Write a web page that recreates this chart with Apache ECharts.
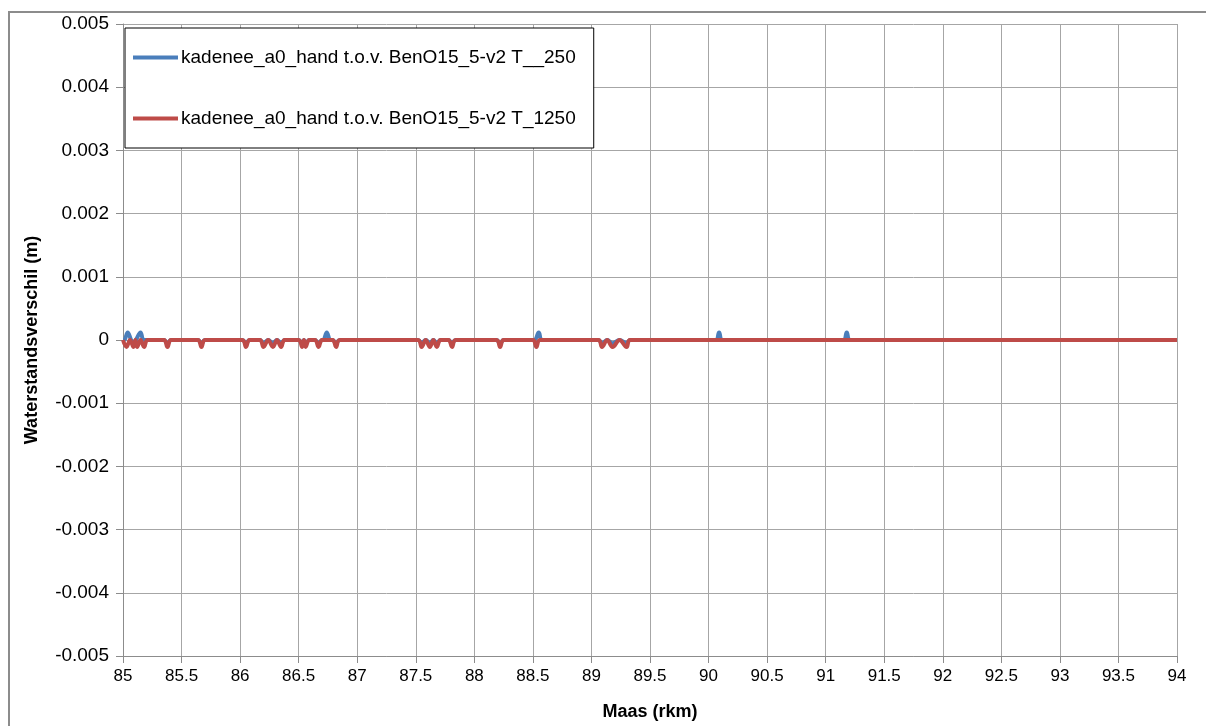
<!DOCTYPE html>
<html>
<head>
<meta charset="utf-8">
<script src="https://cdn.jsdelivr.net/npm/echarts@6/dist/echarts.min.js"></script>
<style>
html,body{margin:0;padding:0;background:#fff;}
#chart{width:1206px;height:726px;}
</style>
</head>
<body>
<div id="chart"></div>
<script>
// Series names
const seriesNames = [
  'kadenee_a0_hand t.o.v. BenO15_5-v2 T__250',
  'kadenee_a0_hand t.o.v. BenO15_5-v2 T_1250'
];

// T__250 (blue): river km and water level difference (m)
const rkm250 = [85.00, 85.01, 85.04, 85.07, 85.09, 85.11, 85.15, 85.18,
  85.35, 85.38, 85.41, 85.64, 85.67, 85.70,
  86.02, 86.05, 86.08, 86.17, 86.20, 86.24, 86.28, 86.315, 86.35, 86.38,
  86.50, 86.53, 86.545, 86.56, 86.59, 86.64, 86.67, 86.70, 86.71, 86.74, 86.77, 86.79, 86.82, 86.85,
  87.52, 87.55, 87.585, 87.62, 87.65, 87.68, 87.71, 87.78, 87.81, 87.84,
  88.19, 88.22, 88.25, 88.51, 88.55, 88.58,
  89.06, 89.09, 89.135, 89.18, 89.24, 89.30, 89.33,
  90.06, 90.09, 90.12, 91.15, 91.18, 91.21, 94.00];
const dh250 = [0, 0, 0.00012, 0, -0.00004, 0, 0.00012, 0,
  0, -0.00006, 0, 0, -0.00006, 0,
  0, -0.00005, 0, 0, -0.00005, 0, -0.00005, 0, -0.00005, 0,
  0, -0.00005, 0, -0.00005, 0, 0, -0.00005, 0, 0, 0.00012, 0, 0, -0.00005, 0,
  0, -0.00005, 0, -0.00005, 0, -0.00005, 0, 0, -0.00005, 0,
  0, -0.00006, 0, 0, 0.00012, 0,
  0, -0.00005, 0, -0.00005, 0, -0.00005, 0,
  0, 0.00012, 0, 0, 0.00012, 0, 0];

// T_1250 (red): river km and water level difference (m)
const rkm1250 = [85.00, 85.03, 85.06, 85.09, 85.105, 85.12, 85.15, 85.18, 85.21,
  85.35, 85.38, 85.41, 85.64, 85.67, 85.70,
  86.02, 86.05, 86.08, 86.17, 86.20, 86.24, 86.28, 86.315, 86.35, 86.38,
  86.50, 86.53, 86.545, 86.56, 86.59, 86.64, 86.67, 86.70, 86.79, 86.82, 86.85,
  87.52, 87.55, 87.585, 87.62, 87.65, 87.68, 87.71, 87.78, 87.81, 87.84,
  88.19, 88.22, 88.25, 88.50, 88.53, 88.56,
  89.06, 89.09, 89.135, 89.18, 89.24, 89.30, 89.33, 94.00];
const dh1250 = [0, -0.00011, 0, -0.00011, 0, -0.00011, 0, -0.00011, 0,
  0, -0.00011, 0, 0, -0.00011, 0,
  0, -0.00011, 0, 0, -0.00011, 0, -0.00011, 0, -0.00011, 0,
  0, -0.00011, 0, -0.00011, 0, 0, -0.00011, 0, 0, -0.00011, 0,
  0, -0.00011, 0, -0.00011, 0, -0.00011, 0, 0, -0.00011, 0,
  0, -0.00011, 0, 0, -0.00011, 0,
  0, -0.00011, 0, -0.00011, 0, -0.00011, 0, 0];

const xTitle = 'Maas (rkm)';
const yTitle = 'Waterstandsverschil (m)';

const FONT = '"Liberation Sans", Arial, sans-serif';
const chart = echarts.init(document.getElementById('chart'), null, {renderer: 'canvas'});
const pairs = (xs, ys) => xs.map((x, i) => [x, ys[i]]);

chart.setOption({
  backgroundColor: '#ffffff',
  animation: false,
  graphic: [{
    type: 'rect', left: 8, top: 11, z: -10,
    shape: {width: 1250, height: 760},
    style: {fill: '#fff', stroke: '#8c8c8c', lineWidth: 2}
  }],
  grid: {left: 123, right: 29, top: 24, bottom: 69, containLabel: false},
  legend: {
    orient: 'vertical', left: 125, top: 28,
    padding: [20, 18, 20, 8], itemGap: 42,
    itemWidth: 45, itemHeight: 4, icon: 'rect',
    backgroundColor: '#fff', borderColor: '#000', borderWidth: 1,
    textStyle: {fontFamily: FONT, fontSize: 19, color: '#000', padding: [0, 0, 0, -2]},
    data: seriesNames
  },
  xAxis: {
    type: 'value', min: 85, max: 94, interval: 0.5,
    name: xTitle, nameLocation: 'middle', nameGap: 47,
    nameTextStyle: {fontFamily: FONT, fontSize: 18, fontWeight: 'bold', color: '#000'},
    axisLine: {show: true, onZero: false, lineStyle: {color: '#8c8c8c', width: 1}},
    axisTick: {show: true, length: 7, lineStyle: {color: '#8c8c8c'}},
    axisLabel: {fontFamily: FONT, fontSize: 17, color: '#000', margin: 12},
    splitLine: {show: true, lineStyle: {color: '#a6a6a6', width: 1}}
  },
  yAxis: {
    type: 'value', min: -0.005, max: 0.005, interval: 0.001,
    name: yTitle, nameLocation: 'middle', nameGap: 82,
    nameTextStyle: {fontFamily: FONT, fontSize: 18, fontWeight: 'bold', color: '#000'},
    axisLine: {show: true, lineStyle: {color: '#8c8c8c', width: 1}},
    axisTick: {show: true, length: 7, lineStyle: {color: '#8c8c8c'}},
    axisLabel: {
      fontFamily: FONT, fontSize: 19, color: '#000', margin: 14,
      formatter: v => Math.abs(v) < 1e-9 ? '0' : v.toFixed(3)
    },
    splitLine: {show: true, lineStyle: {color: '#a6a6a6', width: 1}}
  },
  series: [
    {
      name: seriesNames[0], type: 'line', data: pairs(rkm250, dh250),
      showSymbol: false, smooth: 0.4, color: '#4a7ebb',
      lineStyle: {width: 4, color: '#4a7ebb'}
    },
    {
      name: seriesNames[1], type: 'line', data: pairs(rkm1250, dh1250),
      showSymbol: false, smooth: 0.4, color: '#be4b48',
      lineStyle: {width: 4, color: '#be4b48'}
    }
  ]
});
</script>
</body>
</html>
